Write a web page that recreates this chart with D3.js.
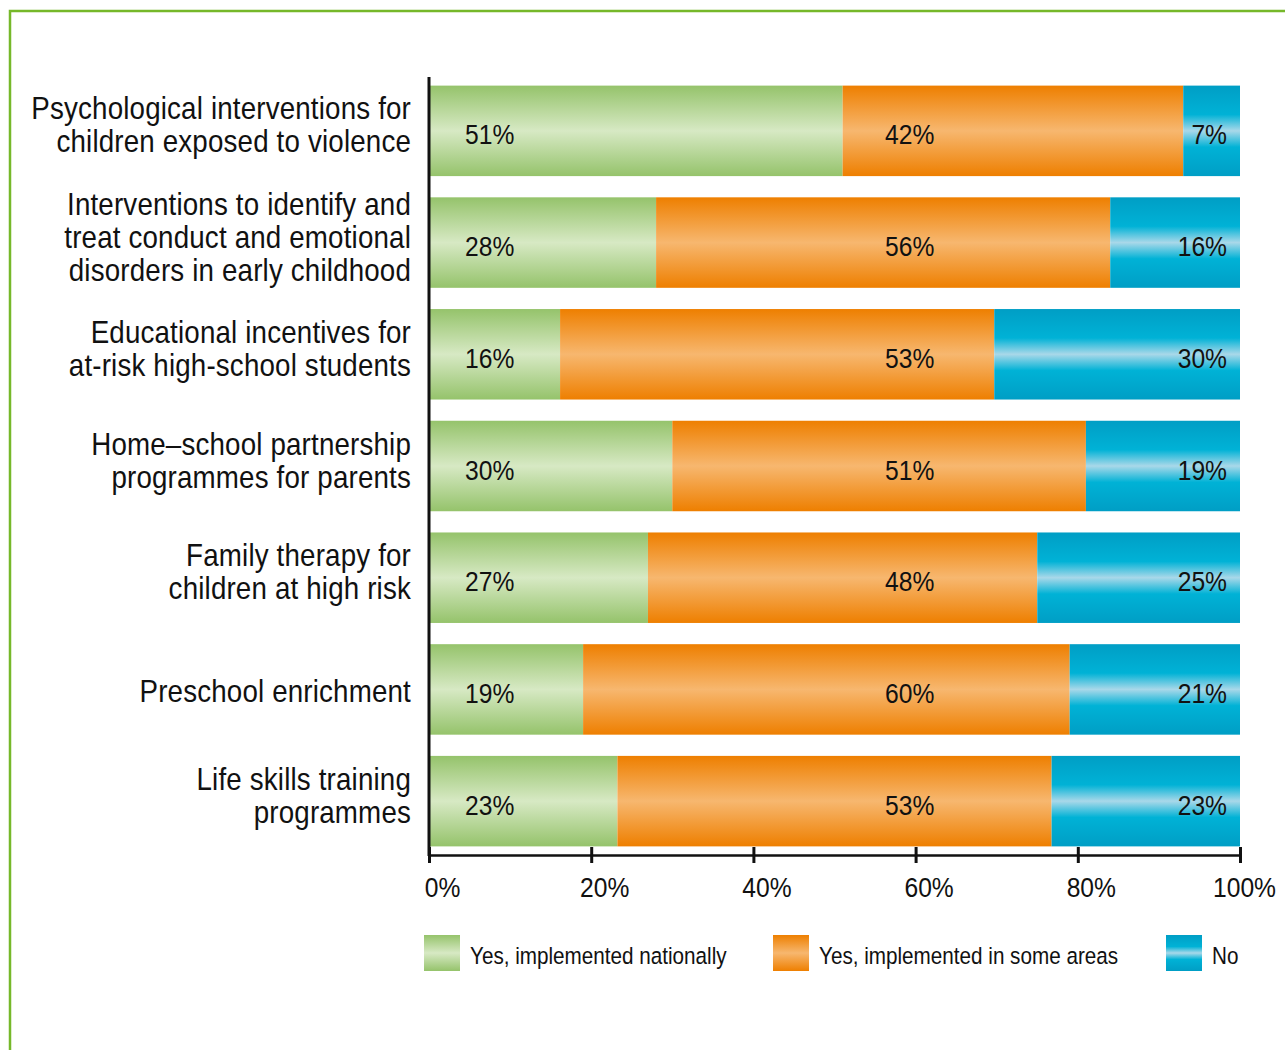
<!DOCTYPE html>
<html>
<head>
<meta charset="utf-8">
<script src="https://cdn.jsdelivr.net/npm/d3@7"></script>
<style>
	body { margin: 0; background: #fff; }
	svg text { font-family: "Liberation Sans", Arial, sans-serif; fill: #111; }
</style>
</head>
<body>
<div id="chart"></div>
<script>
// categories, one entry per bar, split into label lines
var categories = [
	["Psychological interventions for", "children exposed to violence"]
	, ["Interventions to identify and", "treat conduct and emotional", "disorders in early childhood"]
	, ["Educational incentives for", "at-risk high-school students"]
	, ["Home\u2013school partnership", "programmes for parents"]
	, ["Family therapy for", "children at high risk"]
	, ["Preschool enrichment"]
	, ["Life skills training", "programmes"]
];
var nationally = [51, 28, 16, 30, 27, 19, 23];
var someAreas = [42, 56, 53, 51, 48, 60, 53];
var notImpl = [7, 16, 30, 19, 25, 21, 23];
var seriesNames = ["Yes, implemented nationally", "Yes, implemented in some areas", "No"];
var tickValues = [0, 20, 40, 60, 80, 100];

var width = 1285, height = 1050
	, squeeze = 0.88  // no condensed font installed, so squeeze Liberation Sans
	, lineGap = 33;

var svg = d3.select("#chart").append("svg")
	.attr("width", width)
	.attr("height", height);

// place text by transform so it can be narrowed horizontally
function condense(sel, xf, yf) {
	sel.attr("x", 0).attr("y", 0)
		.attr("transform", function(d, i, n) {
			return "translate(" + xf(d, i, n) + "," + yf(d, i, n) + ") scale(" + squeeze + ",1)";
		});
}

// --- GRADIENTS --- \\
var gradStops = [
	[["0", "#95c36b"], ["0.5", "#d7e9c4"], ["1", "#95c36b"]]
	, [["0", "#ee7f00"], ["0.5", "#f7b76f"], ["1", "#ee7f00"]]
	, [["0", "#009ec5"], ["0.32", "#00b2d6"], ["0.5", "#a9d8e9"], ["0.68", "#00b2d6"], ["1", "#009ec5"]]
];
var defs = svg.append("defs");
gradStops.forEach(function(stops, i) {
	var g = defs.append("linearGradient")
		.attr("id", "grad" + i)
		.attr("x1", 0).attr("y1", 0).attr("x2", 0).attr("y2", 1);
	stops.forEach(function(s) {
		g.append("stop").attr("offset", s[0]).attr("stop-color", s[1]);
	});
});

// --- FRAME --- \\
svg.append("path")
	.attr("d", "M10," + height + "V11H" + width)
	.attr("fill", "none")
	.attr("stroke", "#76b82a")
	.attr("stroke-width", 2.5);

// --- SCALES --- \\
var x = d3.scaleLinear().domain([0, 100]).range([429, 1240]);
var y = d3.scaleBand()
	.domain(d3.range(categories.length))
	.range([75, 857])
	.paddingInner(0.19)
	.paddingOuter(0.095);

var rows = categories.map(function(c, i) {
	return {nat: nationally[i], some: someAreas[i], no: notImpl[i]};
});
var keys = ["nat", "some", "no"];
var stacked = d3.stack().keys(keys).offset(d3.stackOffsetExpand)(rows);

// --- BARS --- \\
var layer = svg.selectAll(".layer").data(stacked)
	.enter().append("g")
	.attr("class", "layer")
	.attr("fill", function(d, i) { return "url(#grad" + i + ")"; });

layer.selectAll("rect").data(function(d) { return d; })
	.enter().append("rect")
	.attr("x", function(d) { return x(d[0] * 100); })
	.attr("y", function(d, i) { return y(i); })
	.attr("width", function(d) { return x(d[1] * 100) - x(d[0] * 100); })
	.attr("height", y.bandwidth());

// value labels: green left, orange at a fixed column, blue right
var labelPos = [[x(0) + 36, "start"], [x(0) + 456, "start"], [x(100) - 13, "end"]];
function layerIdx(n, i) { return keys.indexOf(d3.select(n[i].parentNode).datum().key); }

var vals = layer.selectAll("text").data(function(d) { return d; })
	.enter().append("text")
	.attr("text-anchor", function(d, i, n) { return labelPos[layerIdx(n, i)][1]; })
	.style("font-size", "28px")
	.text(function(d, i, n) { return d.data[keys[layerIdx(n, i)]] + "%"; });
condense(vals
	, function(d, i, n) { return labelPos[layerIdx(n, i)][0]; }
	, function(d, i) { return y(i) + y.bandwidth() / 2 + 13.5; });

// --- CATEGORY LABELS --- \\
var catLines = [];
categories.forEach(function(lines, i) {
	lines.forEach(function(t, j) {
		catLines.push({text: t, row: i, line: j, count: lines.length});
	});
});
var cat = svg.selectAll(".cat").data(catLines)
	.enter().append("text")
	.attr("class", "cat")
	.attr("text-anchor", "end")
	.style("font-size", "31.5px")
	.style("letter-spacing", "0.2px")
	.text(function(d) { return d.text; });
condense(cat
	, function() { return 411; }
	, function(d) {
		var off = d.count === 1 ? 12.5 : 5;
		return y(d.row) + y.bandwidth() / 2 + off + (d.line - (d.count - 1) / 2) * lineGap;
	});

// --- AXES --- \\
svg.append("line")
	.attr("x1", x(0)).attr("x2", x(0))
	.attr("y1", 77).attr("y2", 856)
	.attr("stroke", "#111").attr("stroke-width", 3);

var xAxis = svg.append("g")
	.attr("transform", "translate(0,855)")
	.call(d3.axisBottom(x).tickValues(tickValues).tickSizeOuter(0)
		.tickFormat(function(d) { return d + "%"; }));
xAxis.attr("font-family", null).attr("font-size", null);
xAxis.select(".domain").attr("stroke", "#111").attr("stroke-width", 2.5);
xAxis.selectAll(".tick line")
	.attr("y1", -8).attr("y2", 8)
	.attr("stroke", "#111").attr("stroke-width", 3);
var tickText = xAxis.selectAll(".tick text")
	.attr("dy", 0)
	.attr("fill", "#111")
	.style("font-size", "28px");
condense(tickText
	, function(d) { return d === 100 ? 4 : 13; }
	, function() { return 42; });

// --- LEGEND --- \\
var legendX = [424, 773, 1166];
var legend = svg.selectAll(".legend").data(seriesNames)
	.enter().append("g")
	.attr("class", "legend")
	.attr("transform", function(d, i) { return "translate(" + legendX[i] + ",935)"; });
legend.append("rect")
	.attr("width", 36).attr("height", 36)
	.attr("fill", function(d, i) { return "url(#grad" + i + ")"; });
condense(legend.append("text")
	.style("font-size", "23.5px")
	.text(function(d) { return d; })
	, function() { return 46; }
	, function() { return 28.5; });
</script>
</body>
</html>
